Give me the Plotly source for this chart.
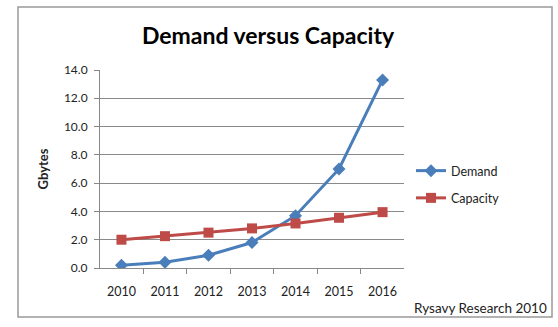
import plotly.graph_objects as go

years = ["2010", "2011", "2012", "2013", "2014", "2015", "2016"]
demand = [0.2, 0.4, 0.9, 1.8, 3.7, 7.0, 13.3]
capacity = [2.0, 2.25, 2.5, 2.8, 3.15, 3.55, 3.95]

FONT = "Lato, Open Sans, sans-serif"
L, R, T, B = 100, 154, 70, 59
W, H = 558, 327
pw, ph = W - L - R, H - T - B

def px(x):
    return (x - L) / pw

def py(y):
    return (H - B - y) / ph

fig = go.Figure()
fig.add_trace(go.Scatter(x=years, y=demand, name="Demand", mode="lines+markers",
                         legendgroup="a",
                         line=dict(color="#4A7EBB", width=3),
                         marker=dict(symbol="diamond", size=10, color="#4A7EBB")))
fig.add_trace(go.Scatter(x=years, y=capacity, name="Capacity", mode="lines+markers",
                         legendgroup="b",
                         line=dict(color="#BE4B48", width=3),
                         marker=dict(symbol="square", size=10, color="#BE4B48")))

fig.update_layout(
    width=W, height=H,
    margin=dict(l=L, r=R, t=T, b=B),
    paper_bgcolor="white", plot_bgcolor="white",
    font=dict(family=FONT, size=12, color="#222"),
    title=dict(text="<b>Demand versus Capacity</b>", xref="container", x=268 / W, xanchor="center",
               yref="container", y=1 - 36 / H, yanchor="middle",
               font=dict(size=23, color="black", family=FONT)),
    showlegend=True,
    legend=dict(x=px(411), y=py(156), xanchor="left", yanchor="top",
                font=dict(size=12.5, color="#222"), bgcolor="rgba(0,0,0,0)",
                tracegroupgap=8, itemwidth=30),
    xaxis=dict(type="category", tickson="boundaries", ticks="outside", ticklen=5,
               tickcolor="#888", showline=True, linecolor="#888", linewidth=1,
               showgrid=False, ticklabelstandoff=12, tickfont=dict(size=12.5, color="#222")),
    yaxis=dict(range=[0, 14], dtick=2, tickformat=".1f", ticks="outside", ticklen=5,
               tickcolor="#888", showline=True, linecolor="#888", linewidth=1,
               showgrid=True, gridcolor="#8a8a8a", gridwidth=1, zeroline=False,
               ticklabelstandoff=4,
               title=dict(text="<b>Gbytes</b>", font=dict(size=13, color="#222"), standoff=12),
               tickfont=dict(size=12, color="#222")),
    shapes=[dict(type="rect", xref="paper", yref="paper",
                 x0=px(18), x1=px(552), y0=py(317), y1=py(7),
                 line=dict(color="#999", width=1.5), fillcolor="rgba(0,0,0,0)", layer="below")],
    annotations=[dict(text="Rysavy Research 2010", xref="paper", yref="paper",
                      x=px(549), y=py(308), xanchor="right", yanchor="middle",
                      showarrow=False, font=dict(size=13.5, color="#222"))],
)

fig.write_html("out.html")
